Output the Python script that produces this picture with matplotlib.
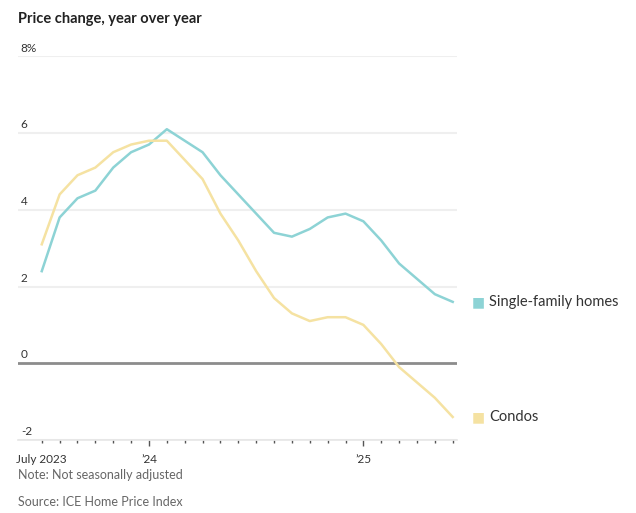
import matplotlib
matplotlib.use("Agg")
import matplotlib.pyplot as plt
from matplotlib import font_manager

months = list(range(24))  # July 2023 .. June 2025
single_family = [2.4, 3.8, 4.3, 4.5, 5.1, 5.5, 5.7, 6.1, 5.8, 5.5, 4.9, 4.4,
                 3.9, 3.4, 3.3, 3.5, 3.8, 3.9, 3.7, 3.2, 2.6, 2.2, 1.8, 1.6]
condos = [3.1, 4.4, 4.9, 5.1, 5.5, 5.7, 5.8, 5.8, 5.3, 4.8, 3.9, 3.2,
          2.4, 1.7, 1.3, 1.1, 1.2, 1.2, 1.0, 0.5, -0.1, -0.5, -0.9, -1.4]
series_names = ["Single-family homes", "Condos"]
series_colors = ["#8dd3d5", "#f5e2a2"]
y_ticks = [-2, 0, 2, 4, 6, 8]
y_labels = ["-2", "0", "2", "4", "6", "8%"]
x_tick_pos = [0, 6, 18]
x_tick_labels = ["July 2023", "\u201924", "\u201925"]

avail = {f.name for f in font_manager.fontManager.ttflist}
fam = "Liberation Sans Narrow" if "Liberation Sans Narrow" in avail else "Lato"
plt.rcParams["font.family"] = [fam, "DejaVu Sans"]

fig = plt.figure(figsize=(6.36, 5.13), dpi=100)
ax = fig.add_axes([18/636, 73/513, (457-18)/636, (440-56.3)/513])

ax.set_xlim(-1.33, 23.24)
ax.set_ylim(-2, 8)

for yv in y_ticks:
    if yv == 0:
        ax.axhline(yv, color="#8c8c8c", lw=2.0, zorder=2)
    else:
        ax.axhline(yv, color="#efefef", lw=1.5, zorder=1)

for vals, c in zip([single_family, condos], series_colors):
    ax.plot(months, vals, color=c, lw=1.8, zorder=3, solid_joinstyle="round")

# y labels above gridlines
for yv, lab in zip(y_ticks, y_labels):
    ax.annotate(lab, xy=(0, yv), xycoords=("axes fraction", "data"),
                xytext=(2, 2), textcoords="offset points",
                ha="left", va="bottom", fontsize=8.5, color="#333333")

for sp in ["top", "right", "left"]:
    ax.spines[sp].set_visible(False)
ax.spines["bottom"].set_color("#e6e6e6")
ax.spines["bottom"].set_linewidth(1.2)
ax.set_yticks([])

ax.set_xticks(x_tick_pos)
ax.set_xticklabels(x_tick_labels, fontsize=8.5, color="#333333")
ax.set_xticks(months, minor=True)
ax.tick_params(axis="x", which="major", length=4, width=1, color="#555555", pad=6)
ax.tick_params(axis="x", which="minor", length=2, width=1, color="#555555")
ax.xaxis.get_major_ticks()[0].tick1line.set_markersize(2)

# end labels
for vals, name, c in zip([single_family, condos], series_names, series_colors):
    ax.annotate("\u25A0", xy=(months[-1], vals[-1]), xycoords="data",
                xytext=(13.5, 0), textcoords="offset points", ha="left", va="center",
                fontsize=10, color=c, family="DejaVu Sans", annotation_clip=False)
    ax.annotate(name, xy=(months[-1], vals[-1]), xycoords="data",
                xytext=(26, 0), textcoords="offset points", ha="left", va="center",
                fontsize=10.5, color="#333333", annotation_clip=False)

fig.text(18/636, 1 - 19/513, "Price change, year over year", ha="left", va="center",
         fontsize=10.5, fontweight="bold", color="#222222")
fig.text(18/636, 1 - 475/513, "Note: Not seasonally adjusted", ha="left", va="center",
         fontsize=9, color="#666666")
fig.text(18/636, 1 - 502/513, "Source: ICE Home Price Index", ha="left", va="center",
         fontsize=9, color="#666666")

fig.savefig("out.png", dpi=100)
